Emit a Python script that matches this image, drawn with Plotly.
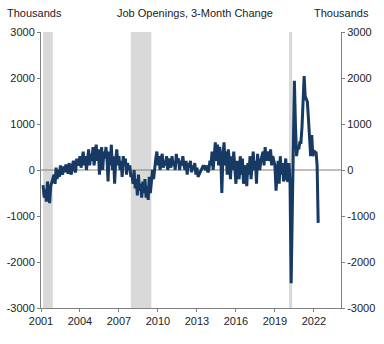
import pandas as pd
import plotly.graph_objects as go

# Monthly 3-month change in job openings (thousands), Mar 2001 - May 2022
v2001 = [-330, -600, -420, -690, -250, -500, -720, -350, -250, -150]
v2002 = [-100, -300, 50, -200, 0, -150, 100, -50, -100, 80, -50, 120]
v2003 = [0, -80, 150, 50, -100, 100, 200, 0, -50, 250, 100, 150]
v2004 = [300, 50, 200, 400, 100, 300, 0, 250, 450, 100, 350, 200]
v2005 = [500, 100, 300, 550, 200, 450, -100, 300, 500, 0, 400, 250]
v2006 = [500, 200, -250, 400, 100, 550, 0, 300, -300, 200, 450, 100]
v2007 = [300, 0, 200, -150, 300, 100, 250, -100, 150, 0, 100, -150]
v2008 = [-100, -300, 0, -400, -200, -550, -100, -450, -300, -600, -250, -500]
v2009 = [-200, -600, -350, -650, -150, -500, -300, 0, -200, 100, 250, 400]
v2010 = [100, 300, 0, 250, 350, 50, 200, 100, 300, 0, 150, 250]
v2011 = [50, 300, 100, 200, 0, 350, 150, 250, 0, 200, 100, 300]
v2012 = [100, 0, 200, -100, 150, 50, 200, -50, 100, 0, 150, -100]
v2013 = [50, -150, -100, -50, 0, 50, 100, 50, 0, 100, -50, 0]
v2014 = [200, 100, 400, 0, 300, 600, 200, 550, 100, 500, 300, -500]
v2015 = [300, 600, 100, 400, -100, 450, 200, -200, 300, 0, 400, 100]
v2016 = [-300, 200, 0, -200, 300, -100, 250, -300, 100, 0, -350, 150]
v2017 = [-100, 300, -200, 100, 400, 0, 200, -300, 350, 100, 0, 200]
v2018 = [300, 400, 100, 500, 200, 400, 300, 200, 450, 100, 300, 200]
v2019 = [100, -450, 0, 200, -300, 300, -100, 150, -250, 100, 250, -200]
v2020 = [-250, 150, -300, -2460, -800, 600, 1940, 950, 300, 500, 450, 600]
v2021 = [600, 950, 1500, 2040, 1600, 1520, 1480, 1100, 700, 300, 760, 300]
v2022 = [430, 370, 400, 100, -1150]

values = (v2001 + v2002 + v2003 + v2004 + v2005 + v2006 + v2007 + v2008 + v2009
          + v2010 + v2011 + v2012 + v2013 + v2014 + v2015 + v2016 + v2017
          + v2018 + v2019 + v2020 + v2021 + v2022)
dates = pd.date_range("2001-03-01", periods=len(values), freq="MS")

recessions = [("2001-03-01", "2001-11-30"), ("2007-12-01", "2009-06-30"), ("2020-02-01", "2020-04-30")]
tick_years = [2001, 2004, 2007, 2010, 2013, 2016, 2019, 2022]
y_ticks = [-3000, -2000, -1000, 0, 1000, 2000, 3000]
y_labels = ["-3000", "-2000", "-1000", "0", "1000", "2000", "3000"]

fig = go.Figure()
fig.add_trace(go.Scatter(x=dates, y=values, mode="lines",
                         line=dict(color="#173A64", width=3), showlegend=False,
                         hoverinfo="skip"))
fig.add_trace(go.Scatter(x=[dates[0]], y=[0], yaxis="y2", mode="markers",
                         marker=dict(opacity=0), showlegend=False, hoverinfo="skip"))

for s, e in recessions:
    fig.add_shape(type="rect", xref="x", yref="paper", x0=s, x1=e, y0=0, y1=1,
                  fillcolor="#D9D9D9", line=dict(width=0), layer="below")

fnt = dict(family="Liberation Sans, Arial, sans-serif", size=11, color="#222222")
axis_common = dict(range=[-3000, 3000], tickvals=y_ticks, ticktext=y_labels, showgrid=False,
                   showline=True, linecolor="#808080", linewidth=1,
                   ticks="outside", ticklen=3, tickcolor="#808080",
                   tickfont=fnt, zeroline=False, automargin=False)

fig.update_layout(
    width=384, height=344,
    margin=dict(l=41, r=43, t=32, b=36),
    paper_bgcolor="white", plot_bgcolor="white",
    font=fnt,
    xaxis=dict(range=["2001-01-01", "2024-02-01"],
               tickvals=[f"{y}-01-01" for y in tick_years],
               ticktext=[str(y) for y in tick_years],
               showgrid=False, showline=True, linecolor="#808080", linewidth=1,
               ticks="outside", ticklen=3, tickcolor="#808080",
               tickfont=fnt, zeroline=False, automargin=False),
    yaxis=dict(**axis_common, side="left"),
    yaxis2=dict(**axis_common, side="right", overlaying="y"),
    annotations=[
        dict(text="Thousands", xref="paper", yref="paper", x=-41/300 + 5/300, y=1 + 19/276,
             xanchor="left", yanchor="middle", showarrow=False, font=fnt),
        dict(text="Thousands", xref="paper", yref="paper", x=(312-41)/300, y=1 + 19/276,
             xanchor="left", yanchor="middle", showarrow=False, font=fnt),
        dict(text="Job Openings, 3-Month Change", xref="paper", yref="paper",
             x=(195-41)/300, y=1 + 19/276, xanchor="center", yanchor="middle",
             showarrow=False, font=fnt),
    ],
)
fig.add_hline(y=0, line=dict(color="#808080", width=1), layer="below")

fig.write_html("out.html")
